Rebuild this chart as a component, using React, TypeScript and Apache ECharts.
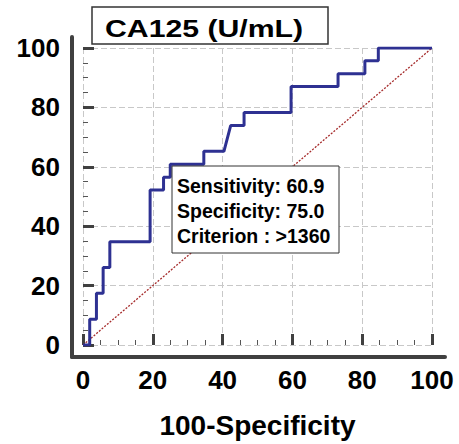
import React, { useEffect, useRef } from "react";
import * as echarts from "echarts";

// 100-Specificity (x) and Sensitivity (y) of the ROC step curve
const fpr = [0, 1.92, 1.92, 3.85, 3.85, 5.77, 5.77, 7.69, 7.69, 19.23, 19.23, 23.08, 23.08, 25.0, 25.0, 34.62, 34.62, 40.38, 42.31, 46.15, 46.15, 59.62, 59.62, 73.08, 73.08, 80.77, 80.77, 84.62, 84.62, 100];
const sensitivity = [0, 0, 8.7, 8.7, 17.4, 17.4, 26.1, 26.1, 34.8, 34.8, 52.2, 52.2, 56.5, 56.5, 60.9, 60.9, 65.2, 65.2, 73.9, 73.9, 78.3, 78.3, 87.0, 87.0, 91.3, 91.3, 95.7, 95.7, 100, 100];
const diagonalX = [0, 100];
const diagonalY = [0, 100];
const titleText = "CA125 (U/mL)";
const xAxisName = "100-Specificity";
const annotationLines = ["Sensitivity: 60.9", "Specificity: 75.0", "Criterion : >1360"];

const FONT = "'Liberation Sans', Arial, Helvetica, sans-serif";
const AXIS_COLOR = "#404040";

export default function App() {
  const ref = useRef<HTMLDivElement>(null);
  useEffect(() => {
    if (!ref.current) return;
    const chart = echarts.init(ref.current, undefined, { renderer: "svg" });
    const labelStyle = { fontSize: 26, fontWeight: "bold" as const, color: "#000", fontFamily: FONT };
    const splitLine = { show: true, lineStyle: { color: "#c8c8c8", type: [6, 3] as any, width: 1 } };
    const mainAxisCommon = {
      gridIndex: 0,
      type: "value" as const,
      min: 0,
      max: 100,
      interval: 20,
      offset: 11,
      axisLine: { show: false },
      axisTick: { show: true, inside: true, length: 11, lineStyle: { width: 3, color: AXIS_COLOR } },
      minorTick: { show: true, splitNumber: 4, length: 5, lineStyle: { width: 1, color: "#555" } },
      minorSplitLine: { show: false },
      splitLine,
    };
    const frameAxisCommon = {
      gridIndex: 1,
      type: "value" as const,
      min: 0,
      max: 1,
      axisLine: { show: true, onZero: false, lineStyle: { width: 4, color: AXIS_COLOR } },
      axisTick: { show: false },
      axisLabel: { show: false },
      splitLine: { show: false },
    };
    const option: any = {
      animation: false,
      backgroundColor: "#fff",
      grid: [
        { left: 83, right: 27, top: 48, bottom: 98 },
        { left: 72, right: 14, top: 37, bottom: 87 },
      ],
      xAxis: [
        {
          ...mainAxisCommon,
          position: "bottom",
          axisLabel: { ...labelStyle, margin: 11 },
          name: xAxisName,
          nameLocation: "middle",
          nameGap: 55,
          nameTextStyle: { fontSize: 28, fontWeight: "bold", color: "#000", fontFamily: FONT },
        },
        { ...frameAxisCommon, position: "bottom" },
      ],
      yAxis: [
        {
          ...mainAxisCommon,
          position: "left",
          axisLabel: { ...labelStyle, margin: 12 },
        },
        { ...frameAxisCommon, position: "left" },
      ],
      series: [
        {
          type: "line",
          xAxisIndex: 0,
          yAxisIndex: 0,
          data: diagonalX.map((x, i) => [x, diagonalY[i]]),
          symbol: "none",
          lineStyle: { color: "#a52a2a", width: 1.3, type: [2, 1.5] },
          z: 2,
        },
        {
          type: "line",
          xAxisIndex: 0,
          yAxisIndex: 0,
          data: fpr.map((x, i) => [x, sensitivity[i]]),
          symbol: "none",
          lineStyle: { color: "#2e3192", width: 3 },
          z: 3,
        },
      ],
      graphic: [
        {
          type: "rect",
          z: 100,
          shape: { x: 92, y: 7, width: 236, height: 37 },
          style: { fill: "#fff", stroke: "#333", lineWidth: 1.5 },
        },
        {
          type: "text",
          z: 101,
          x: 105,
          y: 28.5,
          scaleX: 1.26,
          style: { text: titleText, font: `bold 24px ${FONT}`, fill: "#000", verticalAlign: "middle", align: "left" },
        },
        {
          type: "rect",
          z: 100,
          shape: { x: 172, y: 166, width: 167, height: 87 },
          style: { fill: "#fff", stroke: "#333", lineWidth: 1 },
        },
        ...annotationLines.map((t, i) => ({
          type: "text",
          z: 101,
          x: 177,
          y: 185.8 + i * 25,
          style: { text: t, font: `bold 19.5px ${FONT}`, fill: "#000", verticalAlign: "middle", align: "left" },
        })),
      ],
    };
    chart.setOption(option);
    return () => chart.dispose();
  }, []);
  return (
    <div
      ref={ref}
      style={{ position: "fixed", left: 0, top: 0, width: 459, height: 444, background: "#fff" }}
    />
  );
}
